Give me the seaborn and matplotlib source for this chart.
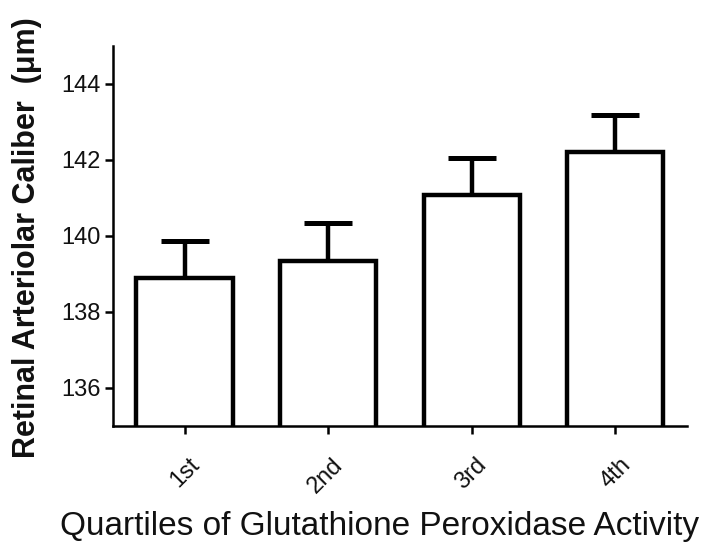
import matplotlib
matplotlib.use("Agg")
import matplotlib.pyplot as plt
from matplotlib.transforms import ScaledTranslation
import seaborn as sns
import pandas as pd

categories = ["1st", "2nd", "3rd", "4th"]
means = [138.9, 139.35, 141.07, 142.2]
upper_err = [0.97, 0.98, 0.97, 0.97]
yticks = [136, 138, 140, 142, 144]

sns.set_theme(style="ticks")
plt.rcParams['font.family'] = ['Liberation Sans', 'DejaVu Sans']

df = pd.DataFrame({"q": categories, "v": means})
fig = plt.figure(figsize=(7.14, 5.53), dpi=100)
ax = fig.add_axes([0.158, 0.23, 0.804, 0.687])

sns.barplot(data=df, x="q", y="v", color="white", edgecolor="black",
            linewidth=3.2, width=0.67, errorbar=None, ax=ax, zorder=2)
for p in ax.patches:
    p.set_facecolor("white")
ax.errorbar(range(len(categories)), means, yerr=[[0]*4, upper_err], fmt="none",
            ecolor="black", elinewidth=3.2, capsize=17.5, capthick=3.6, zorder=1)

ax.set_ylim(135, 145)
ax.set_xlim(-0.5, 3.5)
ax.set_yticks(yticks)
ax.set_yticklabels([str(t) for t in yticks], fontsize=17)
ax.set_xticks(range(4))
ax.set_xticklabels(categories, rotation=45, fontsize=17, ha="right",
                   rotation_mode="anchor")
ax.tick_params(axis="both", width=1.8, length=6, color="black", labelcolor="#111111")
ax.tick_params(axis="x", pad=14)
ax.tick_params(axis="y", pad=3)
off = ScaledTranslation(3 / 72, 0, fig.dpi_scale_trans)
for lab in ax.get_xticklabels():
    lab.set_transform(lab.get_transform() + off)
for s in ["left", "bottom"]:
    ax.spines[s].set_linewidth(1.8)
    ax.spines[s].set_color("black")
sns.despine(ax=ax)
ax.set_xlabel("Quartiles of Glutathione Peroxidase Activity", fontsize=24, color="#111111")
ax.set_ylabel("Retinal Arteriolar Caliber  (μm)", fontsize=22, fontweight="bold", color="#111111")
ax.xaxis.set_label_coords(0.465, -0.225)
ax.yaxis.set_label_coords(-0.124, 0.496)

fig.savefig("out.png", dpi=100)
